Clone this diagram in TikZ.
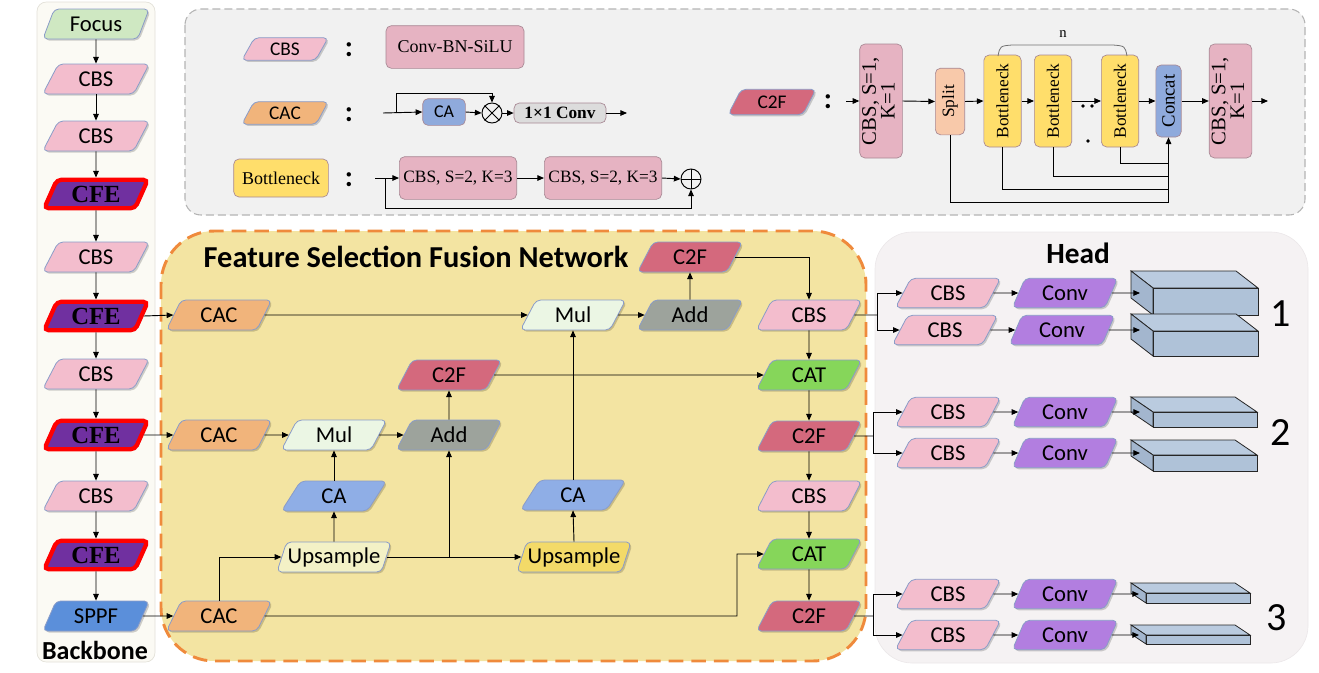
\documentclass[tikz,border=0pt]{standalone}
\usepackage{fontspec}
\setmainfont{Carlito}
\newfontfamily\tnr{Liberation Serif}
\usepackage{graphicx}
\usetikzlibrary{shapes.geometric,arrows.meta,calc,shadows}
\definecolor{cbsc}{HTML}{F3BDCD}
\definecolor{cfec}{HTML}{7030A0}
\definecolor{focc}{HTML}{CFE8C2}
\definecolor{sppc}{HTML}{5B8FDA}
\definecolor{cacc}{HTML}{F1B47B}
\definecolor{mulc}{HTML}{EBF6E4}
\definecolor{addc}{HTML}{9DA39C}
\definecolor{c2fc}{HTML}{D4697D}
\definecolor{cablue}{HTML}{8FAEE6}
\definecolor{up1c}{HTML}{F3F1C6}
\definecolor{up2c}{HTML}{F3DA68}
\definecolor{catc}{HTML}{86D65A}
\definecolor{convc}{HTML}{B27EE0}
\definecolor{pbord}{HTML}{8A9CC8}
\definecolor{bbfill}{HTML}{FBFAF4}
\definecolor{bbline}{HTML}{E2E0D8}
\definecolor{lgfill}{HTML}{F1F1F1}
\definecolor{lgline}{HTML}{B4B4B4}
\definecolor{fsfill}{HTML}{F3E4A2}
\definecolor{fsline}{HTML}{EF8A3C}
\definecolor{hdfill}{HTML}{F5F2F3}
\definecolor{hdline}{HTML}{ECE8EA}
\definecolor{lpink}{HTML}{E6B3C2}
\definecolor{lbord}{HTML}{A88894}
\definecolor{lyel}{HTML}{FFDE6B}
\definecolor{lpeach}{HTML}{F8C9AA}
\definecolor{lblue}{HTML}{8FAADC}
\definecolor{lgray}{HTML}{DCDCDC}
\definecolor{blkf}{HTML}{AFC2D8}
\definecolor{blkt}{HTML}{BACBDF}
\definecolor{blks}{HTML}{A3B6CE}
\tikzset{
  arr/.style={-{Triangle[length=5pt,width=4.2pt]}, line width=0.7pt},
  ln/.style={line width=0.7pt},
  para/.style={trapezium, trapezium left angle=64, trapezium right angle=116,
    trapezium stretches=true, minimum width=80pt, minimum height=22.5pt,
    inner sep=0pt, rounded corners=3.5pt, draw=pbord, line width=0.6pt,
    font=\fontsize{17}{18}\selectfont,
    drop shadow={shadow xshift=1.2pt, shadow yshift=-1.2pt, opacity=0.18, fill=black}},
  cbsbox/.style={para, fill=cbsc},
  cfebox/.style={para, fill=cfec, draw=red, line width=3.2pt, minimum width=78pt,
    minimum height=21.5pt, font=\tnr\bfseries\fontsize{18.5}{19}\selectfont},
  focusbox/.style={para, fill=focc},
  sppfbox/.style={para, fill=sppc},
  cacbox/.style={para, fill=cacc, minimum width=79pt},
  mulbox/.style={para, fill=mulc, minimum width=79pt},
  addbox/.style={para, fill=addc, minimum width=79pt},
  c2fbox/.style={para, fill=c2fc, minimum width=79pt},
  cabox/.style={para, fill=cablue, minimum width=79pt},
  up1box/.style={para, fill=up1c, minimum width=86pt},
  up2box/.style={para, fill=up2c, minimum width=86pt},
  catbox/.style={para, fill=catc, minimum width=79pt},
  hcbs/.style={para, fill=cbsc, minimum width=79pt, minimum height=22pt},
  convbox/.style={para, fill=convc, minimum width=79pt, minimum height=22pt},
  lpara/.style={para, minimum width=65pt, minimum height=17pt,
    font=\fontsize{14.5}{15}\selectfont},
  lbox/.style={rectangle, rounded corners=4pt, draw=lbord, line width=0.5pt,
    inner sep=1pt},
  vertbox/.style={lbox, font=\tnr\fontsize{13}{15}\selectfont},
  colonmark/.style={font=\bfseries\fontsize{22}{22}\selectfont, inner sep=0pt},
  blockface/.style={fill=blkf, draw=black!85, line width=0.6pt},
  blocktop/.style={fill=blkt, draw=black!85, line width=0.6pt},
  blockside/.style={fill=blks, draw=black!85, line width=0.6pt},
}
\newcommand\hblock[6]{%
  \filldraw[blocktop] (#1,#2) -- (#3,#2) -- ++(#5,#6) -- ($(#1,#2)+(#5,#6)$) -- cycle;
  \filldraw[blockside] (#1,#2) -- (#1,#4) -- ++(#5,#6) -- ($(#1,#2)+(#5,#6)$) -- cycle;
  \filldraw[blockface] (#1,#2) rectangle (#3,#4);
}
\begin{document}
\begin{tikzpicture}[x=0.75pt,y=-0.75pt]
\useasboundingbox (0,0) rectangle (1319,672);
% ---------- panels ----------
\draw[fill=bbfill, draw=bbline, rounded corners=7pt, line width=0.5pt] (37,2) rectangle (155,662);
\draw[fill=lgfill, draw=lgline, dash pattern=on 6pt off 3pt, line width=0.8pt, rounded corners=12pt] (185,9) rectangle (1305,215);
\draw[fill=hdfill, draw=hdline, line width=0.5pt, rounded corners=28pt] (875,232) rectangle (1308,663);
\draw[fill=fsfill, draw=fsline, dash pattern=on 11pt off 6pt, line width=2.2pt, rounded corners=40pt] (161,231) rectangle (866,661);

% ---------- backbone ----------
\node[focusbox] (focus) at (96,24) {Focus};
\node[cbsbox] (b1) at (96,79) {CBS};
\node[cbsbox] (b2) at (96,136) {CBS};
\node[cfebox] (c1) at (96,194) {CFE};
\node[cbsbox] (b3) at (96,257) {CBS};
\node[cfebox] (c2) at (96,316) {CFE};
\node[cbsbox] (b4) at (96,374) {CBS};
\node[cfebox] (c3) at (96,435) {CFE};
\node[cbsbox] (b5) at (96,496) {CBS};
\node[cfebox] (c4) at (96,555) {CFE};
\node[sppfbox] (sppf) at (96,616) {SPPF};
\node[font=\bfseries\fontsize{19.5}{21}\selectfont] (bbl) at (95,650) {Backbone};
\foreach \a/\b in {focus/b1,b1/b2,b2/c1,c1/b3,b3/c2,c2/b4,b4/c3,c3/b5,b5/c4,c4/sppf}
  \draw[arr] (\a.south) -- (\b.north);

% ---------- legend ----------
\node[lpara, fill=cbsc] (lcbs) at (285,49) {CBS};
\node[colonmark] (k1) at (349,50) {:};
\node[lbox, fill=lpink, minimum width=103.5pt, minimum height=32pt, font=\tnr\fontsize{13.5}{15}\selectfont] (lcbn) at (455,47) {Conv-BN-SiLU};

\node[lpara, fill=cacc] (lcac) at (285,113) {CAC};
\node[colonmark] (k2) at (349,115) {:};
\coordinate (cin) at (383,113);
\coordinate (cbr) at (396,113);
\coordinate (ctop) at (492,93);
\node[lbox, fill=lblue, minimum width=32pt, minimum height=20pt, font=\fontsize{13.5}{14}\selectfont] (lca) at (444,112) {CA};
\node[circle, draw, line width=0.7pt, minimum size=15pt, inner sep=0pt] (otimes) at (492,113) {};
\draw[line width=0.7pt] (otimes.45) -- (otimes.225) (otimes.135) -- (otimes.315);
\node[lbox, fill=lgray, minimum width=69pt, minimum height=15pt, font=\tnr\bfseries\fontsize{13}{14}\selectfont] (conv11) at (560,113) {1×1 Conv};
\coordinate (cout) at (627,113);
\draw[arr] (cin) -- (lca.west);
\draw[arr] (cbr) |- (ctop) -- (otimes.north);
\draw[arr] (lca.east) -- (otimes.west);
\draw[arr] (otimes.east) -- (conv11.west);
\draw[arr] (conv11.east) -- (cout);

\node[lbox, fill=lyel, minimum width=71pt, minimum height=28.5pt, font=\tnr\fontsize{13.5}{15}\selectfont] (lbot) at (281,178) {Bottleneck};
\node[colonmark] (k3) at (349,180) {:};
\coordinate (bin) at (375,178);
\coordinate (bbr) at (385,178);
\coordinate (bbot) at (691,208);
\node[lbox, fill=lpink, minimum width=88pt, minimum height=32pt, font=\tnr\fontsize{13}{15}\selectfont] (s1) at (458,178) {CBS, S=2, K=3};
\node[lbox, fill=lpink, minimum width=88pt, minimum height=32pt, font=\tnr\fontsize{13}{15}\selectfont] (s2) at (603,178) {CBS, S=2, K=3};
\node[circle, draw, line width=0.7pt, minimum size=15pt, inner sep=0pt] (oplus) at (691,179) {};
\draw[line width=0.7pt] (oplus.north) -- (oplus.south) (oplus.east) -- (oplus.west);
\draw[arr] (bin) -- (s1.west);
\draw[arr] (s1.east) -- (s2.west);
\draw[arr] (s2.east) -- (oplus.west);
\draw[arr] (bbr) |- (bbot) -- (oplus.south);

% C2F legend
\node[lpara, fill=c2fc, minimum width=66pt, minimum height=19pt] (lc2f) at (772,102) {C2F};
\node[colonmark] (k4) at (828,102) {:};
\coordinate (fin) at (846,101);
\node[vertbox, fill=lpink, minimum width=31.5pt, minimum height=85.5pt, font=\tnr\fontsize{15.5}{16}\selectfont] (fa) at (881,101)
  {\rotatebox{90}{\begin{tabular}{@{}c@{}}CBS, S=1,\\[-2pt]K=1\end{tabular}}};
\node[vertbox, fill=lpeach, minimum width=22pt, minimum height=50pt] (split) at (950,101.5) {\rotatebox{90}{Split}};
\node[vertbox, fill=lyel, minimum width=28pt, minimum height=69pt] (bn1) at (1002.5,101) {\rotatebox{90}{Bottleneck}};
\node[vertbox, fill=lyel, minimum width=28pt, minimum height=69pt] (bn2) at (1053,101) {\rotatebox{90}{Bottleneck}};
\node[vertbox, fill=lyel, minimum width=28pt, minimum height=69pt] (bn3) at (1120,101) {\rotatebox{90}{Bottleneck}};
\node[vertbox, fill=lblue, minimum width=19pt, minimum height=54pt, font=\tnr\fontsize{14}{15}\selectfont] (concat) at (1168.5,101) {\rotatebox{90}{Concat}};
\node[vertbox, fill=lpink, minimum width=31.5pt, minimum height=85.5pt, font=\tnr\fontsize{15.5}{16}\selectfont] (fb) at (1230.5,101)
  {\rotatebox{90}{\begin{tabular}{@{}c@{}}CBS, S=1,\\[-2pt]K=1\end{tabular}}};
\coordinate (fout) at (1268,101);
\draw[arr] (fin) -- (fa.west);
\draw[arr] (fa.east) -- (split.west);
\draw[arr] (split.east) -- (bn1.west);
\draw[arr] (bn1.east) -- (bn2.west);
\draw[arr] (bn2.east) -- (bn3.west);
\draw[arr] (bn3.east) -- (concat.west);
\draw[arr] (concat.east) -- (fb.west);
\draw[arr] (fb.east) -- (fout);
\fill (1083,106) circle (1.4pt);
\fill (1092,106) circle (1.4pt);
\fill (1088,141) circle (1.4pt);
\coordinate (fq0) at (1168.5,202);
\coordinate (fq1) at (1168.5,189);
\coordinate (fq2) at (1168.5,176);
\coordinate (fq3) at (1168.5,163);
\draw[ln] (split.south) |- (fq0);
\draw[ln] (bn1.south) |- (fq1);
\draw[ln] (bn2.south) |- (fq2);
\draw[ln] (bn3.south) |- (fq3);
\draw[arr] (fq0) -- (concat.south);
\draw[line width=0.6pt, draw=black!55] (998,56) .. controls (1000,46) .. (1012,45) -- (1113,45) .. controls (1125,46) .. (1127,56);
\node[font=\tnr\fontsize{11}{12}\selectfont] (nl) at (1063,34) {n};

% ---------- FSFN ----------
\node[font=\bfseries\fontsize{22.8}{25}\selectfont, anchor=west] (title) at (199,257) {Feature Selection Fusion Network};
\node[cacbox] (cac1) at (219,315) {CAC};
\node[cacbox] (cac2) at (219,435) {CAC};
\node[cacbox] (cac3) at (219,616) {CAC};
\node[mulbox] (mul1) at (334,435) {Mul};
\node[addbox] (add1) at (449,435) {Add};
\node[c2fbox] (c2f1) at (449,375) {C2F};
\node[cabox] (ca1) at (334,496) {CA};
\node[up1box] (up1) at (334,557) {Upsample};
\node[mulbox] (mul2) at (573,315) {Mul};
\node[addbox] (add2) at (690,315) {Add};
\node[c2fbox] (c2ft) at (690,257) {C2F};
\node[cabox] (ca2) at (573,495) {CA};
\node[up2box] (up2) at (574,557) {Upsample};
\node[cbsbox, minimum width=79pt] (r1) at (809,315) {CBS};
\node[catbox] (r2) at (809,375) {CAT};
\node[c2fbox] (r3) at (809,436) {C2F};
\node[cbsbox, minimum width=79pt] (r4) at (809,496) {CBS};
\node[catbox] (r5) at (809,554) {CAT};
\node[c2fbox] (r6) at (809,616) {C2F};

\draw[arr] (c2.east) -- (cac1.west);
\draw[arr] (c3.east) -- (cac2.west);
\draw[arr] (sppf.east) -- (cac3.west);
\draw[arr] (cac1.east) -- (mul2.west);
\draw[arr] (mul2.east) -- (add2.west);
\draw[arr] (add2.north) -- (c2ft.south);
\draw[arr] (c2ft.east) -| (r1.north);
\draw[arr] (cac2.east) -- (mul1.west);
\draw[arr] (mul1.east) -- (add1.west);
\draw[arr] (add1.north) -- (c2f1.south);
\draw[arr] (c2f1.east) -- (r2.west);
\draw[arr] (cac3.north) |- (up1.west);
\draw[arr] (up1.north) -- (ca1.south);
\draw[arr] (ca1.north) -- (mul1.south);
\draw[arr] (up1.east) -- (up2.west);
\draw[arr] (add1.south |- up1.east) -- (add1.south);
\draw[arr] (up2.north) -- (ca2.south);
\draw[arr] (ca2.north) -- (mul2.south);
\coordinate (kk) at (737,616);
\draw[arr] (cac3.east) -- (kk) |- (r5.west);
\draw[arr] (r1.south) -- (r2.north);
\draw[arr] (r2.south) -- (r3.north);
\draw[arr] (r3.south) -- (r4.north);
\draw[arr] (r4.south) -- (r5.north);
\draw[arr] (r5.south) -- (r6.north);

% ---------- Head ----------
\node[font=\bfseries\fontsize{22}{24}\selectfont] (headl) at (1078,253) {Head};
\node[hcbs] (h1a) at (948,293) {CBS};
\node[convbox] (v1a) at (1065,293) {Conv};
\node[hcbs] (h1b) at (945,330) {CBS};
\node[convbox] (v1b) at (1062,330) {Conv};
\node[hcbs] (h2a) at (948,412) {CBS};
\node[convbox] (v2a) at (1065,412) {Conv};
\node[hcbs] (h2b) at (948,453) {CBS};
\node[convbox] (v2b) at (1065,453) {Conv};
\node[hcbs] (h3a) at (948,594) {CBS};
\node[convbox] (v3a) at (1065,594) {Conv};
\node[hcbs] (h3b) at (948,635) {CBS};
\node[convbox] (v3b) at (1065,635) {Conv};

\hblock{1153}{288}{1258}{315}{-22}{-17}
\hblock{1153}{331}{1258}{356}{-22}{-17}
\hblock{1153}{412}{1257}{427}{-22}{-15}
\hblock{1153}{455}{1257}{471}{-22}{-15}
\hblock{1146}{593}{1250}{603}{-15}{-10}
\hblock{1146}{635}{1250}{644}{-15}{-10}
\coordinate (t1a) at (1140,293);
\coordinate (t1b) at (1140,330);
\coordinate (t2a) at (1140,412);
\coordinate (t2b) at (1140,453);
\coordinate (t3a) at (1139,594);
\coordinate (t3b) at (1139,635);

\node[font=\fontsize{30}{32}\selectfont] (n1) at (1281,314) {1};
\node[font=\fontsize{30}{32}\selectfont] (n2) at (1281,433) {2};
\node[font=\fontsize{30}{32}\selectfont] (n3) at (1277,618) {3};

\coordinate (f1) at (877,315);
\coordinate (f2) at (873,436);
\coordinate (f3) at (873,616);
\draw[ln] (r1.east) -- (f1);
\draw[arr] (f1) |- (h1a.west);
\draw[arr] (f1) |- (h1b.west);
\draw[ln] (r3.east) -- (f2);
\draw[arr] (f2) |- (h2a.west);
\draw[arr] (f2) |- (h2b.west);
\draw[ln] (r6.east) -- (f3);
\draw[arr] (f3) |- (h3a.west);
\draw[arr] (f3) |- (h3b.west);
\foreach \h/\v/\t in {h1a/v1a/t1a,h1b/v1b/t1b,h2a/v2a/t2a,h2b/v2b/t2b,h3a/v3a/t3a,h3b/v3b/t3b}{
  \draw[arr] (\h.east) -- (\v.west);
  \draw[arr] (\v.east) -- (\t);
}
\end{tikzpicture}
\end{document}
